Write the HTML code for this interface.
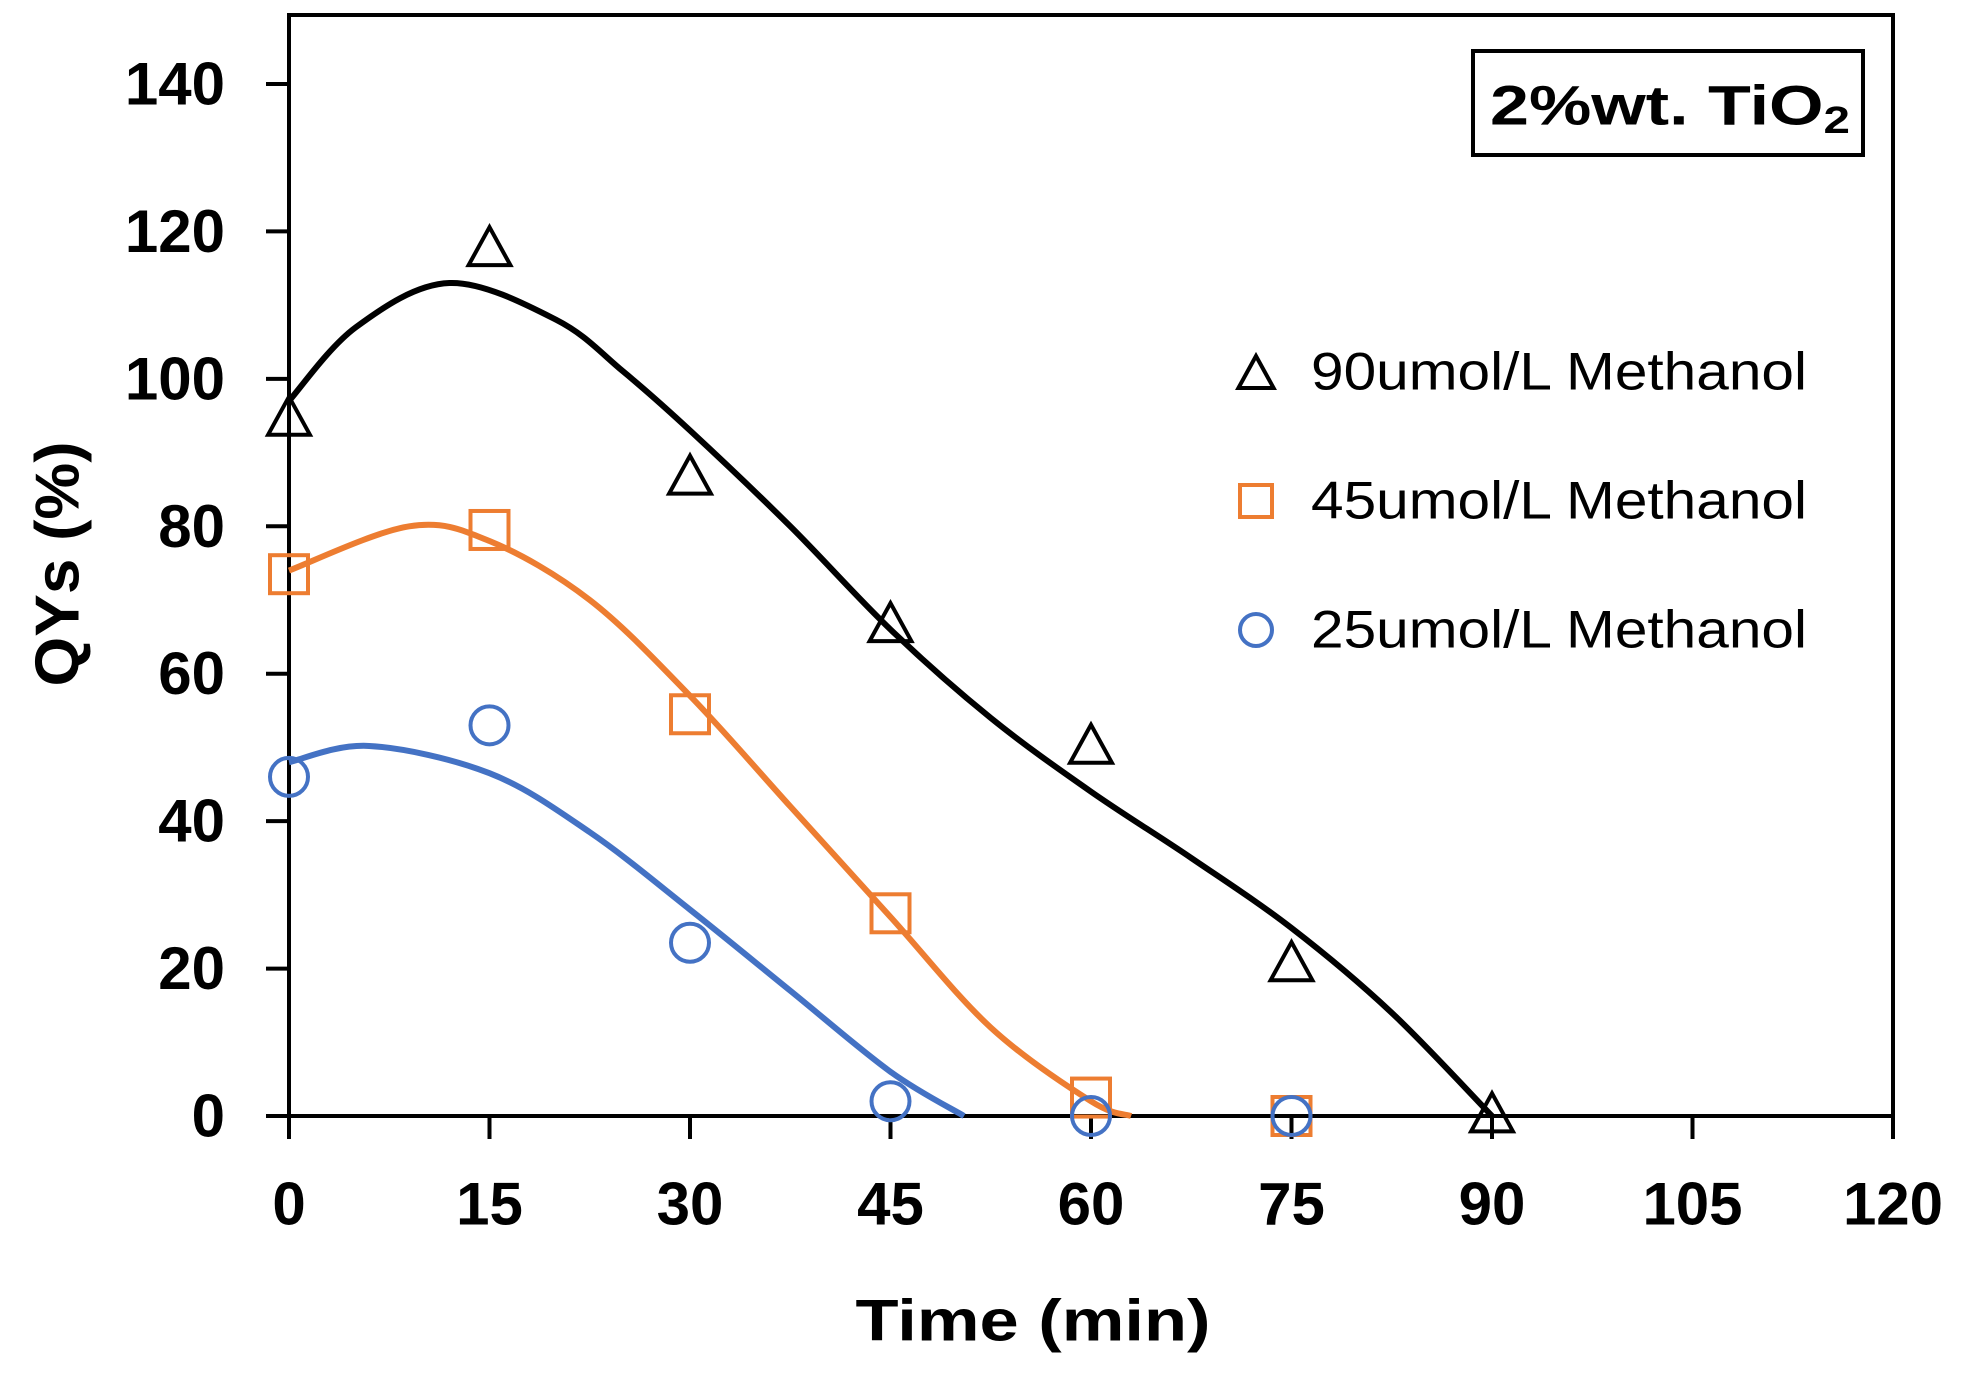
<!DOCTYPE html>
<html><head><meta charset="utf-8"><style>
html,body{margin:0;padding:0;background:#fff;}
svg{display:block;font-family:"Liberation Sans",sans-serif;}
</style></head><body>
<svg id="chart" width="1964" height="1376" viewBox="0 0 1964 1376">
<g id="axes"></g>
<g id="curves"></g>
<g id="markers"></g>
<text x="58" y="564" transform="rotate(-90 58 564)" text-anchor="middle" dominant-baseline="central" font-size="62" font-weight="bold" textLength="245" lengthAdjust="spacingAndGlyphs">QYs (%)</text>
<text x="1033" y="1321" text-anchor="middle" dominant-baseline="central" font-size="58" font-weight="bold" textLength="355" lengthAdjust="spacingAndGlyphs">Time (min)</text>
<g>
<rect x="1473" y="51" width="390" height="104" fill="#fff" stroke="#000" stroke-width="4"/>
<text x="1490" y="105" dominant-baseline="central" font-size="56" font-weight="bold" textLength="360" lengthAdjust="spacingAndGlyphs">2%wt. TiO<tspan font-size="38" dy="16">2</tspan></text>
</g>
<g id="legend"></g>
</svg>
<script>
const xTicks=[0,15,30,45,60,75,90,105,120];
const yTicks=[0,20,40,60,80,100,120,140];
const seriesNames=["90umol/L Methanol","45umol/L Methanol","25umol/L Methanol"];
const seriesColors=["#000000","#ED7D31","#4472C4"];
const seriesShapes=["triangle","square","circle"];
const ptTime90=[0,15,30,45,60,75,90];
const ptVal90=[95,118,87,67,50.5,21,0.5];
const ptTime45=[0,15,30,45,60,75];
const ptVal45=[73.5,79.5,54.5,27.5,2.5,0];
const ptTime25=[0,15,30,45,60,75];
const ptVal25=[46,53,23.5,2,0,0];
const fitTime90=[0,5,12,20,25,30,37.5,45,52.5,60,67.5,75,82.5,90];
const fitVal90=[97,107,113,108,101,93,80,66,54,44,35,25.5,14,0];
const fitTime45=[0,9,15,22.5,30,37.5,45,52.5,60,63];
const fitVal45=[74,80,78,70,57,42,27,12,2,0];
const fitTime25=[0,6,15,22.5,30,37.5,45,50.5];
const fitVal25=[48,50.2,46.5,38.5,28,17,6,0];

const X0=289,X1=1893,Y0=1116,YTOP=15;
const xs=v=>X0+(X1-X0)*v/120;
const ys=v=>Y0-v*(1032/140);
const NS="http://www.w3.org/2000/svg";
function mk(tag,attrs,parent){const e=document.createElementNS(NS,tag);for(const k in attrs)e.setAttribute(k,attrs[k]);parent.appendChild(e);return e;}
const axes=document.getElementById('axes');
const frame=mk('rect',{x:X0,y:YTOP,width:X1-X0,height:Y0-YTOP,fill:'none',stroke:'#000','stroke-width':4},axes);


xTicks.forEach(t=>{
  const l=mk('line',{x1:xs(t),x2:xs(t),y1:Y0,y2:Y0+23,stroke:'#000','stroke-width':4},axes);
  
  
  const tx=mk('text',{x:xs(t),y:1204,'text-anchor':'middle','dominant-baseline':'central','font-size':60,'font-weight':'bold'},axes);
  tx.textContent=t;
  
  
});
yTicks.forEach(t=>{
  const l=mk('line',{x1:X0-23,x2:X0,y1:ys(t),y2:ys(t),stroke:'#000','stroke-width':4},axes);
  
  
  const tx=mk('text',{x:225,y:ys(t),'text-anchor':'end','dominant-baseline':'central','font-size':60,'font-weight':'bold'},axes);
  tx.textContent=t;
  
  
});
function spline(tx,ty){
  const p=tx.map((t,i)=>[xs(t),ys(ty[i])]);
  let d='M'+p[0][0]+','+p[0][1];
  for(let i=0;i<p.length-1;i++){
    const a=p[Math.max(0,i-1)],b=p[i],c=p[i+1],e=p[Math.min(p.length-1,i+2)];
    const c1=[b[0]+(c[0]-a[0])/6,b[1]+(c[1]-a[1])/6],c2=[c[0]-(e[0]-b[0])/6,c[1]-(e[1]-b[1])/6];
    d+=' C'+c1+' '+c2+' '+c;
  }
  return d;
}
const curves=document.getElementById('curves');
[[fitTime90,fitVal90],[fitTime45,fitVal45],[fitTime25,fitVal25]].forEach((s,i)=>{
  const p=mk('path',{d:spline(s[0],s[1]),fill:'none',stroke:seriesColors[i],'stroke-width':6},curves);
  
  
});
function marker(shape,cx,cy,size,color,parent){
  const h=size/2;
  if(shape==='triangle') return mk('polygon',{points:`${cx},${cy-h} ${cx-h*1.1},${cy+h} ${cx+h*1.1},${cy+h}`,fill:'none',stroke:color,'stroke-width':4},parent);
  if(shape==='square') return mk('rect',{x:cx-h,y:cy-h,width:size,height:size,fill:'none',stroke:color,'stroke-width':4},parent);
  return mk('circle',{cx:cx,cy:cy,r:h,fill:'none',stroke:color,'stroke-width':4},parent);
}
const markers=document.getElementById('markers');
[[ptTime90,ptVal90],[ptTime45,ptVal45],[ptTime25,ptVal25]].forEach((s,i)=>{
  s[0].forEach((t,j)=>{
    const m=marker(seriesShapes[i],xs(t),ys(s[1][j]),38,seriesColors[i],markers);
    
    
  });
});
const legend=document.getElementById('legend');
seriesNames.forEach((n,i)=>{
  const y=372+129*i;
  const m=marker(seriesShapes[i],1256,y,32,seriesColors[i],legend);
  
  
  const t=mk('text',{x:1311,y:y,'dominant-baseline':'central','font-size':53,textLength:496,lengthAdjust:'spacingAndGlyphs'},legend);
  t.textContent=n;
  
  
});
</script>
</body></html>
